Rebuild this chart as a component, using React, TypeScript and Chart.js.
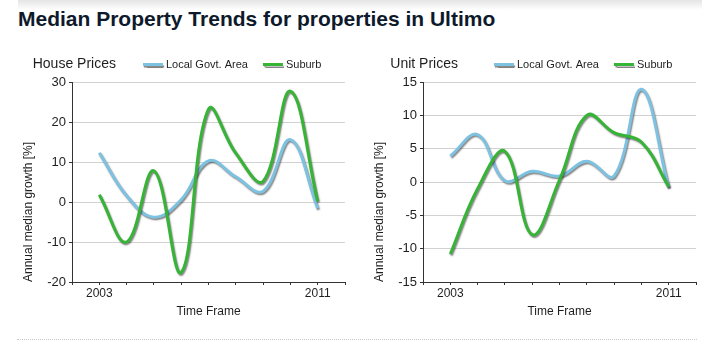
import React, { useEffect, useRef } from "react";
import { Chart, registerables } from "chart.js";

Chart.register(...registerables);

// ---------- data ----------
const years = [2003, 2004, 2005, 2006, 2007, 2008, 2009, 2010, 2011];
const seriesLabels = ["Local Govt. Area", "Suburb"];
const houseLga = [12.3, 1.6, -3.8, 0.6, 10.3, 6.3, 2.7, 15.6, -1.6];
const houseSuburb = [1.8, -10.0, 7.8, -17.6, 23.2, 12.2, 5.2, 27.7, 0.2];
const unitLga = [3.9, 7.1, 0.2, 1.6, 0.9, 3.1, 0.9, 13.9, -0.8];
const unitSuburb = [-10.8, -1.0, 4.6, -7.9, 0.3, 10.0, 7.4, 6.0, -0.7];
const xLabelYears = [2003, 2011];
const houseYRange = [-20, 30, 10];
const unitYRange = [-15, 15, 5];

const FONT = '"Liberation Sans", Arial, Helvetica, sans-serif';
const BLUE = "#7ec2e2";
const GREEN = "#35b435";

const shadowPlugin = {
  id: "lineShadow",
  beforeDatasetDraw(chart: any) {
    const c = chart.ctx;
    c.save();
    c.shadowColor = "rgba(30,30,30,0.55)";
    c.shadowOffsetX = 1;
    c.shadowOffsetY = 1.5;
    c.shadowBlur = 1.5;
  },
  afterDatasetDraw(chart: any) {
    chart.ctx.restore();
  },
};

const headerPlugin = {
  id: "panelHeader",
  afterDraw(chart: any, _args: any, opts: any) {
    const ctx = chart.ctx;
    ctx.save();
    ctx.font = `14px ${FONT}`;
    ctx.fillStyle = "#1e1e1e";
    ctx.textBaseline = "alphabetic";
    ctx.textAlign = "left";
    ctx.fillText(opts.title, opts.titleX, 22.7);
    let x = opts.legendX;
    const y = 19.5;
    chart.data.datasets.forEach((ds: any) => {
      ctx.save();
      ctx.shadowColor = "rgba(30,30,30,0.55)";
      ctx.shadowOffsetX = 1;
      ctx.shadowOffsetY = 1.5;
      ctx.shadowBlur = 1;
      ctx.strokeStyle = ds.borderColor;
      ctx.lineWidth = 3;
      ctx.beginPath();
      ctx.moveTo(x, y);
      ctx.lineTo(x + 20, y);
      ctx.stroke();
      ctx.restore();
      ctx.font = `11px ${FONT}`;
      ctx.fillStyle = "#1e1e1e";
      ctx.textBaseline = "middle";
      ctx.fillText(ds.label, x + 23, y);
      x += 23 + ctx.measureText(ds.label).width + 15;
    });
    ctx.restore();
  },
};

function Panel(props: {
  title: string;
  titleX: number;
  lga: number[];
  suburb: number[];
  yRange: number[];
}) {
  const ref = useRef<HTMLCanvasElement | null>(null);
  useEffect(() => {
    if (!ref.current) return;
    const toPts = (arr: number[]) => years.map((yr, i) => ({ x: yr, y: arr[i] }));
    const chart = new Chart(ref.current, {
      type: "line",
      data: {
        datasets: [
          {
            label: seriesLabels[0],
            data: toPts(props.lga),
            borderColor: BLUE,
            backgroundColor: BLUE,
            borderWidth: 3,
            pointRadius: 0,
            tension: 0.4,
            fill: false,
            order: 1,
          },
          {
            label: seriesLabels[1],
            data: toPts(props.suburb),
            borderColor: GREEN,
            backgroundColor: GREEN,
            borderWidth: 3,
            pointRadius: 0,
            tension: 0.4,
            fill: false,
            order: 0,
          },
        ],
      },
      options: {
        responsive: false,
        animation: false,
        devicePixelRatio: 1,
        layout: { padding: { left: 0, right: 6, top: 37, bottom: 23 } },
        plugins: {
          legend: { display: false },
          tooltip: { enabled: false },
          panelHeader: { title: props.title, titleX: props.titleX, legendX: 143 },
        } as any,
        scales: {
          x: {
            type: "linear",
            min: 2002,
            max: 2012,
            afterFit: (s: any) => {
              s.height = 40;
            },
            ticks: {
              stepSize: 1,
              autoSkip: false,
              maxRotation: 0,
              padding: 1,
              color: "#1e1e1e",
              font: { size: 12, family: FONT },
              callback: (v: any) => (xLabelYears.includes(Number(v)) ? String(v) : ""),
            },
            grid: {
              drawOnChartArea: false,
              drawTicks: true,
              tickLength: 3,
              tickColor: "#333",
            },
            border: { display: true, color: "#333", width: 1 },
            title: {
              display: true,
              text: "Time Frame",
              color: "#1e1e1e",
              font: { size: 12, family: FONT },
              padding: { top: 0, bottom: 3 },
            },
          },
          y: {
            min: props.yRange[0],
            max: props.yRange[1],
            afterFit: (s: any) => {
              s.width = 72;
            },
            ticks: {
              stepSize: props.yRange[2],
              padding: 3,
              color: "#1e1e1e",
              font: { size: 13, family: FONT },
            },
            grid: {
              color: "#d2d2d2",
              drawTicks: true,
              tickLength: 3,
              tickColor: "#333",
            },
            border: { display: true, color: "#333", width: 1 },
            title: {
              display: true,
              text: "Annual median growth [%]",
              align: "start",
              color: "#1e1e1e",
              font: { size: 12, family: FONT },
              padding: { top: 21, bottom: 0 },
            },
          },
        },
      } as any,
      plugins: [shadowPlugin, headerPlugin],
    });
    return () => chart.destroy();
  }, []);
  return (
    <canvas
      ref={ref}
      width={351}
      height={300}
      style={{ width: 351, height: 300, display: "block" }}
    />
  );
}

export default function App() {
  return (
    <div
      style={{
        position: "absolute",
        left: 0,
        top: 0,
        width: 702,
        height: 360,
        background: "#fff",
        overflow: "hidden",
        fontFamily: FONT,
      }}
    >
      <div
        style={{
          position: "absolute",
          left: 18,
          top: 0,
          width: 684,
          height: 10,
          background: "linear-gradient(#e4e4e4, #ffffff)",
        }}
      />
      <div
        style={{
          position: "absolute",
          left: 18,
          top: 7,
          fontSize: 21,
          lineHeight: "24px",
          fontWeight: "bold",
          color: "#0e1a2b",
          whiteSpace: "nowrap",
        }}
      >
        Median Property Trends for properties in Ultimo
      </div>
      <div style={{ position: "absolute", left: 0, top: 45 }}>
        <Panel title="House Prices" titleX={32.7} lga={houseLga} suburb={houseSuburb} yRange={houseYRange} />
      </div>
      <div style={{ position: "absolute", left: 351, top: 45 }}>
        <Panel title="Unit Prices" titleX={39.3} lga={unitLga} suburb={unitSuburb} yRange={unitYRange} />
      </div>
      <div
        style={{
          position: "absolute",
          left: 17,
          top: 339,
          width: 680,
          height: 0,
          borderTop: "1px dotted #c8c8c8",
        }}
      />
    </div>
  );
}
